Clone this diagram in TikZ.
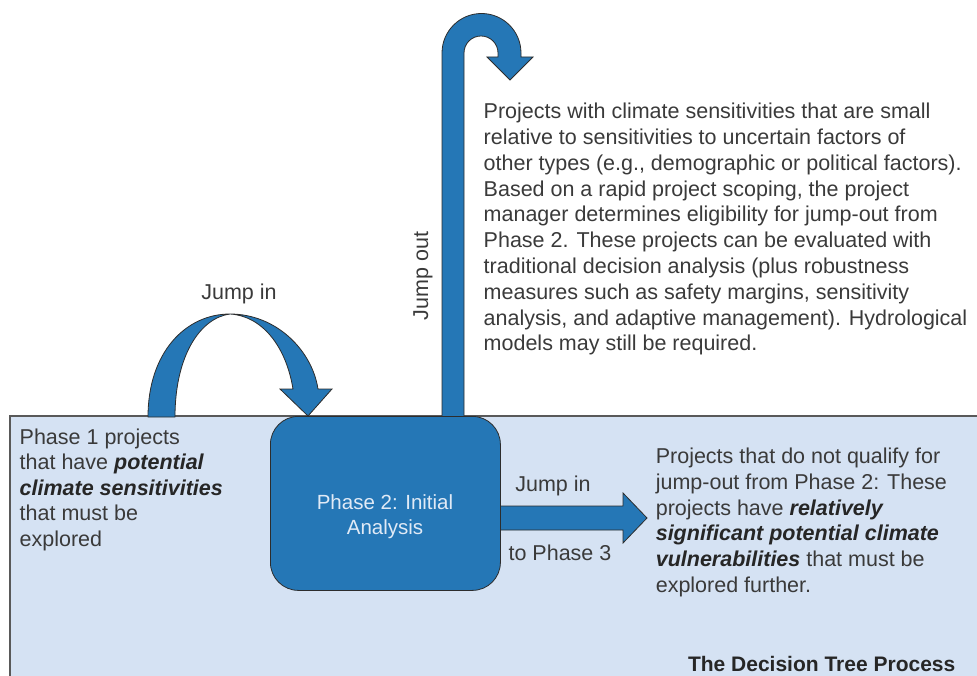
\documentclass[tikz,border=0pt]{standalone}
\usepackage{fontspec}
\setmainfont{Liberation Sans}
\definecolor{bgblue}{RGB}{213,226,243}
\definecolor{arrblue}{RGB}{37,119,182}
\definecolor{txtgray}{RGB}{58,58,58}
\definecolor{boxtxt}{RGB}{224,234,246}
\definecolor{edgegray}{RGB}{45,45,45}
\newcommand{\bolditl}[1]{{\color{black!85}\bfseries\itshape #1}}
\begin{document}
\begin{tikzpicture}[x=1pt,y=-1pt,
  blockarrow/.style={fill=arrblue, draw=edgegray, line width=0.8pt, line join=miter},
  phasebox/.style={fill=arrblue, draw=edgegray, line width=0.8pt, rounded corners=28pt,
    minimum width=230pt, minimum height=174pt, inner sep=0pt, anchor=north west},
  bodytext/.style={text=txtgray, inner sep=0pt, align=left, anchor=north west},
  labeltext/.style={text=txtgray, inner sep=0pt, font=\fontsize{21.5}{25.5}\selectfont}
]
\useasboundingbox (0,0) rectangle (977,676);
\clip (0,0) rectangle (977,676);
% background panel
\fill[bgblue] (10,416) rectangle (990,690);
\draw[black!65, line width=1.2pt] (10,690) -- (10,416) -- (990,416);

% jump-out arrow (vertical shaft with curl)
\draw[blockarrow] (442,417) -- (442,53) arc[start angle=180, end angle=0, radius=39.5pt]
  -- (521,57) -- (533,57) -- (510,80) -- (487,57) -- (498,57) -- (498,53)
  arc[start angle=0, end angle=180, radius=17pt] -- (464,417) -- cycle;

% jump-in arch arrow
\draw[blockarrow] (148,417) .. controls (148,352) and (186,314) .. (230,314)
  .. controls (276,314) and (312,350) .. (318,389) -- (332,389) -- (308,416) -- (280,389) -- (293,389)
  .. controls (286,346) and (262,316) .. (230,314)
  .. controls (200,318) and (175,356) .. (175,417) -- cycle;

% jump-in to phase 3 arrow
\draw[blockarrow] (490,506) -- (623,506) -- (623,493) -- (647,518) -- (623,543) -- (623,530) -- (490,530) -- cycle;

% phase 2 box
\node[phasebox] (p2) at (270,416) {};
\node[text=boxtxt, inner sep=0pt, align=center, anchor=north,
  font=\fontsize{20.5}{25}\selectfont] (p2label) at (385,494.6) {Phase 2: Initial\\Analysis};

% texts
\node[bodytext, font=\fontsize{21.5}{25.8}\selectfont] (outtext) at (483.5,103)
{Projects with climate sensitivities that are small\\
relative to sensitivities to uncertain factors of\\
other types (e.g., demographic or political factors).\\
Based on a rapid project scoping, the project\\
manager determines eligibility for jump-out from\\
Phase 2. These projects can be evaluated with\\
traditional decision analysis (plus robustness\\
measures such as safety margins, sensitivity\\
analysis, and adaptive management). Hydrological\\
models may still be required.};

\node[bodytext, font=\fontsize{21.5}{25.5}\selectfont] (phase1text) at (19.5,428.6)
{Phase 1 projects\\
that have \bolditl{potential}\\
\bolditl{climate sensitivities}\\
that must be\\
explored};

\node[bodytext, font=\fontsize{21.5}{25.7}\selectfont] (phase3text) at (655.6,448)
{Projects that do not qualify for\\
jump-out from Phase 2: These\\
projects have \bolditl{relatively}\\
\bolditl{significant potential climate}\\
\bolditl{vulnerabilities} that must be\\
explored further.};

\node[labeltext, anchor=base] (jumpin1) at (239,300) {Jump in};
\node[labeltext, anchor=base] (jumpin2) at (553,491.7) {Jump in};
\node[labeltext, anchor=base] (tophase3) at (560,560) {to Phase 3};
\node[labeltext, anchor=base, rotate=90] (jumpout) at (428,276) {Jump out};
\node[text=black!85, inner sep=0pt, anchor=base east, font=\fontsize{21}{25}\selectfont\bfseries] (title) at (955.5,671.7) {The Decision Tree Process};
\end{tikzpicture}
\end{document}
